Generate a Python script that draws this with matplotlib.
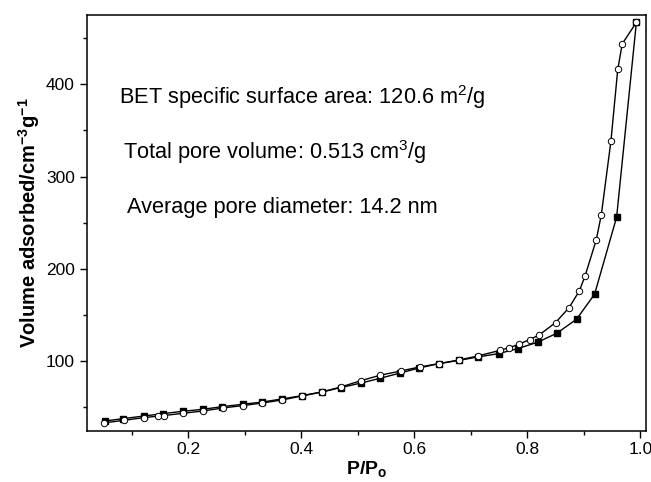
import matplotlib
matplotlib.use("Agg")
import matplotlib.pyplot as plt
from matplotlib.ticker import MultipleLocator

plt.rcParams["font.family"] = ["Liberation Sans", "DejaVu Sans"]
plt.rcParams["mathtext.fontset"] = "custom"
plt.rcParams["mathtext.rm"] = "Liberation Sans"
plt.rcParams["mathtext.it"] = "Liberation Sans"
plt.rcParams["mathtext.bf"] = "Liberation Sans:bold"

# adsorption branch (filled squares)
ads_p = [0.052, 0.085, 0.121, 0.155, 0.190, 0.226, 0.260, 0.296, 0.331, 0.366,
         0.401, 0.436, 0.470, 0.506, 0.539, 0.575, 0.609, 0.644, 0.679, 0.713,
         0.749, 0.783, 0.818, 0.852, 0.887, 0.919, 0.958, 0.993]
ads_v = [35.3, 37.9, 40.7, 43.3, 45.8, 48.0, 50.9, 53.4, 55.9, 59.2,
         62.8, 66.7, 71.5, 76.5, 81.5, 87.3, 92.8, 97.5, 101.0, 104.7,
         108.3, 113.7, 120.6, 130.3, 145.5, 172.6, 256.0, 467.0]

# desorption branch (open circles)
des_p = [0.050, 0.086, 0.122, 0.147, 0.156, 0.191, 0.226, 0.261, 0.296, 0.331,
         0.366, 0.401, 0.436, 0.470, 0.506, 0.539, 0.576, 0.610, 0.644, 0.679,
         0.713, 0.752, 0.768, 0.785, 0.804, 0.821, 0.850, 0.874, 0.892, 0.902,
         0.922, 0.931, 0.948, 0.960, 0.968, 0.993]
des_v = [33.2, 36.1, 39.0, 40.7, 41.2, 43.7, 46.2, 49.4, 52.0, 54.8,
         58.1, 62.4, 66.7, 72.2, 79.1, 84.8, 89.5, 93.9, 97.5, 101.4,
         105.8, 111.9, 114.8, 118.4, 123.5, 128.5, 141.9, 158.2, 176.2, 192.1,
         231.5, 258.9, 338.7, 416.0, 443.8, 467.0]

notes = [
    "BET specific surface area: 120.6 m$^{2}$/g",
    "Total pore volume: 0.513 cm$^{3}$/g",
    "Average pore diameter: 14.2 nm",
]

fig = plt.figure(figsize=(6.51, 4.82), dpi=100)
ax = fig.add_axes([0.1332, 0.1068, 0.8591, 0.8621])

ax.plot(ads_p, ads_v, color="black", lw=1.0, marker="s", ms=4.2,
        mfc="black", mec="black", zorder=3)
ax.plot(des_p, des_v, color="black", lw=1.0, marker="o", ms=4.6,
        mfc="white", mec="black", mew=0.7, zorder=4)

ax.set_xlim(0.02, 1.01)
ax.set_ylim(25, 475)
ax.xaxis.set_major_locator(MultipleLocator(0.2))
ax.xaxis.set_minor_locator(MultipleLocator(0.1))
ax.yaxis.set_major_locator(MultipleLocator(100))
ax.yaxis.set_minor_locator(MultipleLocator(50))
ax.tick_params(which="major", direction="out", length=5, width=1.0,
               labelsize=12.5, top=False, right=False)
ax.tick_params(which="minor", direction="out", length=3, width=1.0,
               top=False, right=False)
for s in ax.spines.values():
    s.set_linewidth(1.1)

ax.set_xlabel(r"$\mathbf{P/P_o}$", fontsize=14, labelpad=1)
ax.set_ylabel(r"$\mathbf{Volume\ adsorbed/cm^{-3}g^{-1}}$", fontsize=14.5,
              labelpad=3)

text_pos = [(119, 97), (123, 152), (127, 208)]
for (px, py), t in zip(text_pos, notes):
    ax.text(px / 651, 1 - py / 482, t, transform=fig.transFigure,
            ha="left", va="center", fontsize=15.7)

fig.savefig("out.png", dpi=100)
